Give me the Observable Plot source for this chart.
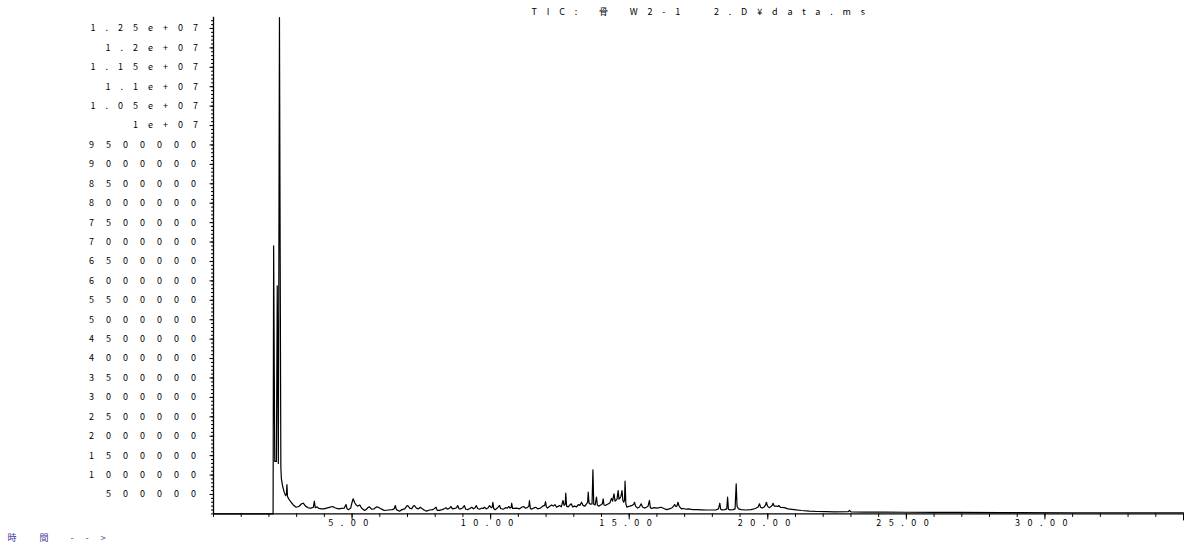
<!DOCTYPE html>
<html>
<head>
<meta charset="utf-8">
<script src="https://cdn.jsdelivr.net/npm/d3@7"></script>
<script src="https://cdn.jsdelivr.net/npm/@observablehq/plot@0.6"></script>
<style>
  html, body { margin: 0; padding: 0; background: #fff; }
  #chart svg { font-family: "Noto Sans CJK JP", sans-serif; }
  g[aria-label^="y-axis tick label"] text { letter-spacing: 12px; }
  g[aria-label^="x-axis tick label"] text { letter-spacing: 7.5px; }
</style>
</head>
<body>
<div id="chart"></div>
<script>
// Retention time (min)
const times = [
  0, 2.15, 2.17, 2.21, 2.27, 2.30, 2.34, 2.38, 2.40, 2.43, 2.45, 2.49, 2.55, 2.60, 2.63, 2.65, 2.67, 2.72, 2.80, 2.88, 2.98,
  3.08, 3.18, 3.24, 3.32, 3.42, 3.52, 3.60, 3.64, 3.67, 3.74, 3.80, 3.90, 3.99, 4.08, 4.18, 4.30, 4.38, 4.45, 4.53, 4.62,
  4.72, 4.78, 4.82, 4.87, 4.95, 5.00, 5.04, 5.10, 5.16, 5.20, 5.28, 5.34, 5.45, 5.52, 5.58, 5.63, 5.70, 5.80, 5.88, 5.95,
  6.02, 6.10, 6.16, 6.30, 6.45, 6.52, 6.56, 6.60, 6.71, 6.80, 6.90, 6.97, 7.01, 7.08, 7.15, 7.21, 7.25, 7.32, 7.40, 7.46,
  7.52, 7.60, 7.68, 7.80, 7.92, 8.00, 8.03, 8.07, 8.15, 8.25, 8.35, 8.39, 8.45, 8.52, 8.57, 8.62, 8.70, 8.77, 8.81, 8.86,
  8.93, 9.00, 9.05, 9.10, 9.17, 9.25, 9.32, 9.38, 9.44, 9.48, 9.53, 9.60, 9.68, 9.74, 9.78, 9.84, 9.90, 9.96, 10.02, 10.06,
  10.08, 10.11, 10.16, 10.24, 10.30, 10.32, 10.36, 10.45, 10.54, 10.60, 10.66, 10.70, 10.74, 10.76, 10.79, 10.85, 10.94,
  11.04, 11.12, 11.19, 11.25, 11.32, 11.38, 11.40, 11.43, 11.47, 11.55, 11.62, 11.70, 11.80, 11.88, 11.95, 11.98, 12.01,
  12.05, 12.12, 12.20, 12.26, 12.32, 12.38, 12.45, 12.49, 12.55, 12.61, 12.65, 12.69, 12.71, 12.74, 12.80, 12.86, 12.91,
  12.96, 13.03, 13.10, 13.16, 13.22, 13.28, 13.33, 13.40, 13.46, 13.50, 13.52, 13.55, 13.60, 13.66, 13.69, 13.72, 13.77,
  13.82, 13.85, 13.90, 13.97, 14.03, 14.06, 14.09, 14.15, 14.22, 14.30, 14.36, 14.40, 14.45, 14.49, 14.52, 14.56, 14.60,
  14.63, 14.66, 14.70, 14.74, 14.77, 14.80, 14.83, 14.85, 14.88, 14.92, 14.97, 15.03, 15.10, 15.16, 15.19, 15.23, 15.30,
  15.37, 15.43, 15.48, 15.55, 15.62, 15.68, 15.73, 15.76, 15.80, 15.90, 16.00, 16.08, 16.15, 16.25, 16.35, 16.45, 16.55,
  16.60, 16.64, 16.68, 16.72, 16.76, 16.80, 16.88, 16.95, 17.05, 17.12, 17.30, 17.45, 17.60, 17.80, 18.00, 18.14, 18.22,
  18.27, 18.30, 18.35, 18.45, 18.52, 18.55, 18.58, 18.63, 18.75, 18.82, 18.86, 18.89, 18.94, 19.05, 19.20, 19.40, 19.55,
  19.65, 19.70, 19.74, 19.80, 19.87, 19.92, 19.95, 19.99, 20.05, 20.12, 20.17, 20.19, 20.23, 20.30, 20.36, 20.40, 20.46,
  20.60, 20.73, 20.95, 21.21, 21.50, 21.81, 22.10, 22.40, 22.90, 22.95, 23.00, 23.50, 24.20, 25.00, 26.00, 27.00, 28.40,
  31.00, 35.00
];
// Total ion current, in thousands of counts, at those times
const ticThousands = [
  0, 0, 6900, 1350, 1350, 5870, 1300, 12780, 8000, 1200, 900, 730, 560, 470, 500, 757, 450, 380, 300, 230, 172,
  190, 260, 275, 200, 157, 150, 170, 327, 160, 180, 140, 130, 131, 150, 170, 190, 160, 140, 131, 140,
  150, 242, 130, 105, 150, 300, 389, 280, 220, 200, 230, 150, 88, 120, 170, 180, 120, 131, 180, 172,
  140, 110, 88, 100, 110, 130, 216, 110, 70, 110, 130, 200, 216, 150, 131, 200, 216, 150, 131, 172,
  140, 100, 70, 100, 110, 150, 172, 90, 90, 110, 140, 157, 120, 150, 190, 130, 140, 160, 216, 130,
  131, 160, 216, 120, 110, 140, 172, 130, 160, 216, 140, 120, 150, 140, 172, 130, 150, 216, 160, 180,
  300, 140, 105, 150, 200, 216, 140, 120, 160, 150, 190, 150, 170, 275, 140, 140, 150,
  131, 170, 190, 150, 160, 200, 340, 150, 120, 150, 170, 131, 150, 200, 220, 319, 180,
  150, 190, 230, 200, 240, 170, 200, 216, 180, 345, 220, 250, 533, 200, 180, 230, 260,
  180, 200, 180, 240, 220, 300, 220, 200, 260, 300, 559, 280, 250, 260, 1135, 250, 230,
  430, 230, 200, 230, 260, 389, 230, 220, 250, 280, 400, 330, 517, 330, 350, 380, 602,
  380, 400, 450, 602, 350, 300, 350, 842, 250, 170, 190, 200, 220, 240, 300, 200, 150,
  180, 260, 180, 150, 170, 200, 345, 170, 140, 160, 150, 160, 172, 140, 110, 130, 160,
  200, 242, 190, 200, 300, 200, 130, 140, 120, 131, 110, 110, 105, 100, 100, 105, 130,
  275, 120, 105, 110, 130, 430, 120, 105, 110, 130, 775, 200, 130, 110, 100, 110, 140,
  180, 260, 170, 150, 180, 230, 300, 200, 160, 190, 230, 275, 200, 200, 190, 216, 170,
  160, 131, 110, 88, 72, 62, 58, 54, 55, 88, 50, 48, 45, 42, 40, 37, 34,
  30, 30
];

const yTicks = d3.range(500000, 12500001, 500000);
const yTickLabels = [
  "500000", "1000000", "1500000", "2000000", "2500000", "3000000", "3500000", "4000000",
  "4500000", "5000000", "5500000", "6000000", "6500000", "7000000", "7500000", "8000000",
  "8500000", "9000000", "9500000", "1e+07", "1.05e+07", "1.1e+07", "1.15e+07", "1.2e+07", "1.25e+07"
];
const yMinorTicks = d3.range(0, 12790000, 100000);
const xTicks = [5, 10, 15, 20, 25, 30];
const xTickLabels = ["5.00", "10.00", "15.00", "20.00", "25.00", "30.00"];
const xMinorTicks = d3.range(0, 36, 1);
const xEndTick = [35];
const titleText = "TIC: 骨 W2-1  2.D¥data.ms";
const timeWord = "時間";
const timeArrow = "-->";

const data = times.map((t, i) => ({t, v: ticThousands[i] * 1000}));
const yLabel = new Map(yTicks.map((v, i) => [v, yTickLabels[i]]));
const xLabel = new Map(xTicks.map((v, i) => [v, xTickLabels[i]]));

const chart = Plot.plot({
  width: 1194,
  height: 549,
  marginLeft: 213,
  marginRight: 11,
  marginTop: 16.7,
  marginBottom: 35.6,
  style: {fontFamily: '"Noto Sans CJK JP", sans-serif', fontSize: "9px", background: "white", color: "black", overflow: "visible"},
  x: {domain: [0, 35]},
  y: {domain: [0, 12790000]},
  marks: [
    Plot.axisY(yMinorTicks, {tickSize: 2, text: null, label: null}),
    Plot.axisY(yTicks, {tickSize: 3.5, tickPadding: 2, tickFormat: d => yLabel.get(d), label: null, fontSize: 9}),
    Plot.axisX(xMinorTicks, {tickSize: 3.5, text: null, label: null}),
    Plot.axisX(xTicks, {tickSize: 6, tickPadding: 0, tickFormat: d => xLabel.get(d), label: null, fontSize: 9}),
    Plot.axisX(xEndTick, {tickSize: 7, text: null, label: null}),
    Plot.ruleX([0], {strokeWidth: 1.3}),
    Plot.ruleY([0], {strokeWidth: 1.3}),
    Plot.line(data, {x: "t", y: "v", stroke: "black", strokeWidth: 1.2}),
    Plot.text([titleText], {frameAnchor: "top-left", dx: 318, dy: -8.5, textAnchor: "start", fontSize: 9, fill: "black"}),
    Plot.text([timeWord], {frameAnchor: "bottom-left", dx: -206, dy: 27.5, textAnchor: "start", fontSize: 9, fill: "#3b3b9b"}),
    Plot.text([timeArrow], {frameAnchor: "bottom-left", dx: -143, dy: 27.5, textAnchor: "start", fontSize: 9, fill: "#3b3b9b"})
  ]
});
document.getElementById("chart").appendChild(chart);

const spacing = new Map([[titleText, "9.85px"], [timeWord, "23px"], [timeArrow, "12px"]]);
d3.select(chart).selectAll("text").each(function () {
  const s = spacing.get(this.textContent);
  if (s) this.style.letterSpacing = s;
});
// e-notation tick labels sit tighter than the plain integer ones
d3.select(chart).selectAll('g[aria-label^="y-axis tick label"] text').each(function () {
  if (this.textContent.includes("e")) this.style.letterSpacing = "10px";
});
</script>
</body>
</html>
